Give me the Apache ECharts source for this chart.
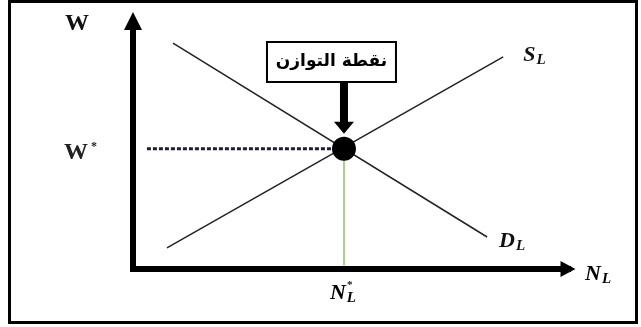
<!DOCTYPE html>
<html>
<head>
<meta charset="utf-8">
<script src="https://cdn.jsdelivr.net/npm/echarts@6/dist/echarts.min.js"></script>
<style>
  html, body { margin: 0; padding: 0; background: #fff; }
  #chart { width: 641px; height: 327px; }
</style>
</head>
<body>
<div id="chart"></div>
<script>
// labour market: demand D_L, supply S_L, equilibrium (N_L*, W*)
var demandLine = [[9.2, 91.1], [81.4, 12.9]];
var supplyLine = [[7.8, 8.5], [85.1, 85.5]];
var equilibrium = [48.5, 48.5];
var wageLineStartX = 3.2;
var boxText = 'نقطة التوازن';

var serif = 'Liberation Serif';
var subRich = {
  m: { fontFamily: serif, fontSize: 22, fontWeight: 'bold', fontStyle: 'italic', color: '#111' },
  s: { fontFamily: serif, fontSize: 15, fontWeight: 'bold', fontStyle: 'italic', color: '#111', padding: [10, 0, 0, 1] }
};

var chart = echarts.init(document.getElementById('chart'));

var option = {
  animation: false,
  backgroundColor: '#fff',
  grid: { left: 133, right: 73, top: 21, bottom: 58 },
  xAxis: {
    type: 'value', min: 0, max: 100,
    splitLine: { show: false }, axisTick: { show: false }, axisLabel: { show: false },
    axisLine: { show: true, lineStyle: { color: '#000', width: 6, cap: 'square' }, symbol: ['none', 'triangle'], symbolSize: [16, 15] }
  },
  yAxis: {
    type: 'value', min: 0, max: 100,
    splitLine: { show: false }, axisTick: { show: false }, axisLabel: { show: false },
    axisLine: { show: true, lineStyle: { color: '#000', width: 6, cap: 'square' }, symbol: ['none', 'triangle'], symbolSize: [18, 18] }
  },
  series: [
    {
      name: 'D', type: 'line', data: demandLine, showSymbol: false,
      lineStyle: { color: '#222', width: 1.5 },
      endLabel: { show: true, formatter: '{m|D}{s|L}', rich: subRich, offset: [4, 4] }
    },
    {
      name: 'S', type: 'line', data: supplyLine, showSymbol: false,
      lineStyle: { color: '#222', width: 1.5 },
      endLabel: { show: true, formatter: '{m|S}{s|L}', rich: subRich, offset: [12, -2] }
    },
    {
      name: 'wage', type: 'line', data: [[wageLineStartX, equilibrium[1]], equilibrium], showSymbol: false,
      lineStyle: { color: '#1c1c3a', width: 3, type: [4, 2] }
    },
    {
      name: 'employment', type: 'line', data: [[equilibrium[0], 1.5], equilibrium], showSymbol: false,
      lineStyle: { color: '#a9d18e', width: 2 }
    },
    {
      name: 'eq', type: 'scatter', data: [equilibrium], symbolSize: 24,
      itemStyle: { color: '#000', opacity: 1 }, z: 5
    }
  ]
};
chart.setOption(option);

// annotations placed from the equilibrium point
var eqPx = chart.convertToPixel({ gridIndex: 0 }, equilibrium);
var origin = chart.convertToPixel({ gridIndex: 0 }, [0, 0]);
var ex = eqPx[0], ey = eqPx[1];

chart.setOption({
  graphic: [
    { type: 'rect', shape: { x: 9.5, y: 1.5, width: 627, height: 321 }, style: { fill: 'none', stroke: '#000', lineWidth: 3 } },
    { type: 'rect', shape: { x: ex - 77, y: 42, width: 129, height: 40 }, style: { fill: '#fff', stroke: '#000', lineWidth: 2 } },
    { type: 'text', x: ex - 12.5, y: 62, style: { text: boxText, fontFamily: 'DejaVu Sans', fontWeight: 'bold', fontSize: 17, fill: '#000', align: 'center', verticalAlign: 'middle' } },
    { type: 'polygon', shape: { points: [[ex - 4, 83], [ex + 4, 83], [ex + 4, ey - 27], [ex + 10, ey - 27], [ex, ey - 15], [ex - 10, ey - 27], [ex - 4, ey - 27]] }, style: { fill: '#000' } },
    { type: 'text', x: 77, y: 24, style: { text: 'W', fontFamily: serif, fontWeight: 'bold', fontSize: 24, fill: '#111', align: 'center', verticalAlign: 'middle' } },
    { type: 'text', x: 76, y: ey + 4, style: { text: 'W', fontFamily: serif, fontWeight: 'bold', fontSize: 24, fill: '#222', align: 'center', verticalAlign: 'middle' } },
    { type: 'text', x: 91, y: ey - 2, style: { text: '*', fontFamily: serif, fontWeight: 'bold', fontSize: 12, fill: '#222', verticalAlign: 'middle' } },
    { type: 'text', x: 585, y: origin[1] + 5, style: { text: '{m|N}{s|L}', rich: subRich, verticalAlign: 'middle' } },
    { type: 'text', x: ex - 14, y: origin[1] + 24, style: { text: '{m|N}{s|L}', rich: subRich, verticalAlign: 'middle' } },
    { type: 'text', x: ex + 3, y: origin[1] + 16, style: { text: '*', fontFamily: serif, fontWeight: 'bold', fontSize: 11, fill: '#111', verticalAlign: 'middle' } }
  ]
});
</script>
</body>
</html>
